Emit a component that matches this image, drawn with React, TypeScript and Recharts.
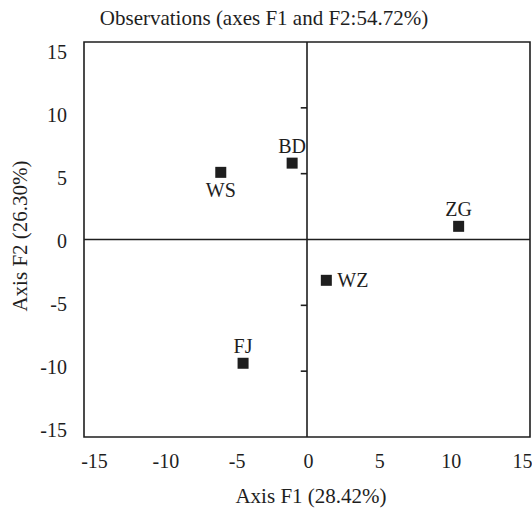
import React from "react";
import {
  ScatterChart,
  Scatter,
  XAxis,
  YAxis,
  ReferenceLine,
  ReferenceArea,
  LabelList,
  Label,
} from "recharts";

const sites = ["WS", "BD", "ZG", "WZ", "FJ"];
const f1 = [-5.8, -1.0, 10.2, 1.3, -4.3];
const f2 = [5.1, 5.8, 1.0, -3.1, -9.4];
const ticks = [-15, -10, -5, 0, 5, 10, 15];
const innerTicks = [10, 5, -5, -10];

const data = sites.map((name, i) => ({ name, x: f1[i], y: f2[i] }));

// where each site's label sits relative to its marker
const labelSide: Record<string, "top" | "bottom" | "right"> = {
  WS: "bottom",
  BD: "top",
  ZG: "top",
  WZ: "right",
  FJ: "top",
};

const INK = "#1e1e1e";
const FONT = "'Liberation Serif', 'Times New Roman', serif";

function Square({ cx, cy }: any) {
  return <rect x={cx - 5.5} y={cy - 5.5} width={11} height={11} fill={INK} />;
}

// tick labels in the source are pulled slightly toward the centre of the frame
function XTick({ x, y, payload }: any) {
  const dx = -payload.value * 0.6 + 1.5;
  return (
    <text x={x + dx} y={y} dy="0.71em" textAnchor="middle" fontSize={20} fill={INK} fontFamily={FONT}>
      {payload.value}
    </text>
  );
}

function YTick({ x, y, payload }: any) {
  const dy = payload.value * 0.55 + 1.2;
  return (
    <text x={x} y={y + dy} dy="0.355em" textAnchor="end" fontSize={20} fill={INK} fontFamily={FONT}>
      {payload.value}
    </text>
  );
}

function SiteLabel({ x, y, width, height, value }: any) {
  const cx = x + width / 2;
  const cy = y + height / 2;
  const side = labelSide[value];
  if (side === "right") {
    return (
      <text x={cx + 11} y={cy + 7} fontSize={20} fill={INK} fontFamily={FONT}>
        {value}
      </text>
    );
  }
  const dy = side === "top" ? -10 : 25;
  return (
    <text x={cx} y={cy + dy} textAnchor="middle" fontSize={20} fill={INK} fontFamily={FONT}>
      {value}
    </text>
  );
}

export default function App() {
  return (
    <div style={{ position: "absolute", left: 0, top: 0, width: 532, height: 509, background: "#fff" }}>
      <ScatterChart width={532} height={509} margin={{ top: 42, right: 2, bottom: 0, left: 0 }}>
        <XAxis
          type="number"
          dataKey="x"
          domain={[-15, 15]}
          ticks={ticks}
          interval={0}
          tickLine={false}
          axisLine={false}
          tick={<XTick />}
          tickMargin={11}
          height={72}
        >
          <Label
            content={() => (
              <text x={311} y={503} textAnchor="middle" fontSize={21} fill={INK} fontFamily={FONT}>
                Axis F1 (28.42%)
              </text>
            )}
          />
        </XAxis>
        <YAxis
          type="number"
          dataKey="y"
          domain={[-15, 15]}
          ticks={ticks}
          interval={0}
          tickLine={false}
          axisLine={false}
          tick={<YTick />}
          tickMargin={11}
          width={84}
        >
          <Label
            content={() => (
              <text
                x={27}
                y={236}
                transform="rotate(-90 27 236)"
                textAnchor="middle"
                fontSize={21}
                fill={INK}
                fontFamily={FONT}
              >
                Axis F2 (26.30%)
              </text>
            )}
          />
        </YAxis>
        <ReferenceArea
          x1={-15}
          x2={15}
          y1={-15}
          y2={15}
          fill="none"
          stroke={INK}
          strokeWidth={1.6}
          ifOverflow="visible"
        >
          <Label
            content={() => (
              <text x={264} y={25} textAnchor="middle" fontSize={21} fill={INK} fontFamily={FONT}>
                Observations (axes F1 and F2:54.72%)
              </text>
            )}
          />
        </ReferenceArea>
        <ReferenceLine x={0} stroke={INK} strokeWidth={1.6} />
        <ReferenceLine y={0} stroke={INK} strokeWidth={1.6} />
        {innerTicks.map((t) => (
          <ReferenceLine
            key={t}
            segment={[
              { x: -0.42, y: t },
              { x: 0, y: t },
            ]}
            stroke={INK}
            strokeWidth={1.6}
          />
        ))}
        <Scatter data={data} shape={<Square />} isAnimationActive={false}>
          <LabelList dataKey="name" content={<SiteLabel />} />
        </Scatter>
      </ScatterChart>
    </div>
  );
}
